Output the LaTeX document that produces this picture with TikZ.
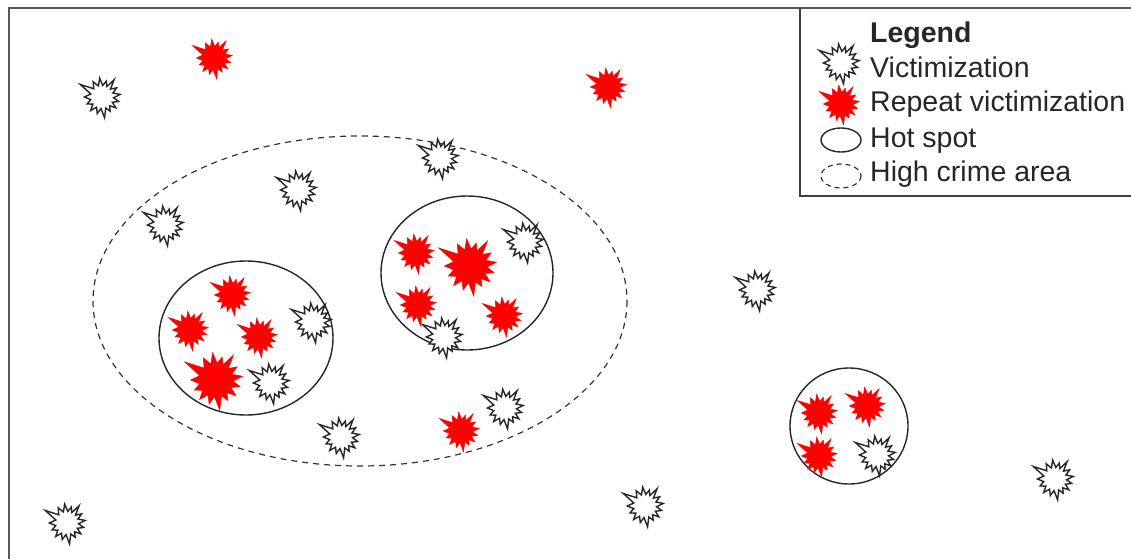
\documentclass[tikz,border=0pt]{standalone}
\usepackage{fontspec}
\setmainfont{Liberation Sans}
\begin{document}
\begin{tikzpicture}[x=1pt,y=-1pt,
  burstshape/.pic={\path[pic actions] (-150:1.25) -- (-135:0.58) -- (-120:0.88) -- (-108:0.58) -- (-97:0.95) -- (-86:0.58) -- (-75:0.82) -- (-65:0.58) -- (-55:1.05) -- (-43:0.58) -- (-32:0.86) -- (-20:0.58) -- (-8:0.92) -- (4:0.58) -- (15:0.86) -- (27:0.58) -- (38:0.88) -- (49:0.58) -- (60:0.82) -- (71:0.58) -- (83:1.05) -- (95:0.58) -- (106:0.86) -- (118:0.58) -- (130:0.88) -- (142:0.58) -- (155:0.82) -- (167:0.58) -- (180:0.88) -- (-165:0.58) -- cycle;},
  vict/.style={draw=black!85,fill=white,line width=1.4pt,line join=miter},
  rep/.style={draw=red,fill=red,line width=0.5pt},
  hot/.style={draw=black!85,line width=1.4pt},
  area/.style={draw=black!80,line width=1.2pt,dash pattern=on 6pt off 5pt},
  frame/.style={draw=black!65,line width=2pt},
  lbl/.style={anchor=base west,inner sep=0pt,text=black!85,font=\fontsize{28.5}{34}\selectfont}]
\useasboundingbox (0,0) rectangle (1131,559);
% outer frame
\draw[frame] (9,559) -- (9,8) -- (1131,8);
% areas
\draw[area] (360,301) ellipse [x radius=267,y radius=165];
\draw[hot] (246,338) ellipse [x radius=87,y radius=77];
\draw[hot] (467,273) ellipse [x radius=86,y radius=77];
\draw[hot] (849,426) ellipse [x radius=59,y radius=58];
% victimizations
\foreach \p in {(102,97),(440,158),(298,190),(165,225),(525,242),(313,322),(444,337),(271,383),(505,408),(341,437),(757,290),(877,455),(1055,479),(645,506),(67,523)}
  \pic[vict,scale=20] at \p {burstshape};
% repeat victimizations
\foreach \p in {(214,58),(608,87),(416,253),(418,305),(504,316),(232,295),(190,330),(259,337),(461,431),(819,413),(867,406),(819,456)}
  \pic[rep,scale=20] at \p {burstshape};
\pic[rep,scale=29] at (470,266) {burstshape};
\pic[rep,scale=29] at (216,380) {burstshape};
% legend
\draw[draw=black!75,line width=1.5pt] (800,8) -- (800,196) -- (1131,196);
\node[lbl,font=\fontsize{28.5}{34}\selectfont\bfseries] (lgT) at (870,43) {Legend};
\pic[vict,scale=20] at (841,63) {burstshape};
\node[lbl] (lg1) at (870,78) {Victimization};
\pic[rep,scale=20] at (841,104) {burstshape};
\node[lbl] (lg2) at (870,112) {Repeat victimization};
\draw[hot] (841,140) ellipse [x radius=20,y radius=12];
\node[lbl] (lg3) at (870,147) {Hot spot};
\draw[area,dash pattern=on 5pt off 4pt] (841,176) ellipse [x radius=20,y radius=12];
\node[lbl] (lg4) at (870,181) {High crime area};
\end{tikzpicture}
\end{document}
